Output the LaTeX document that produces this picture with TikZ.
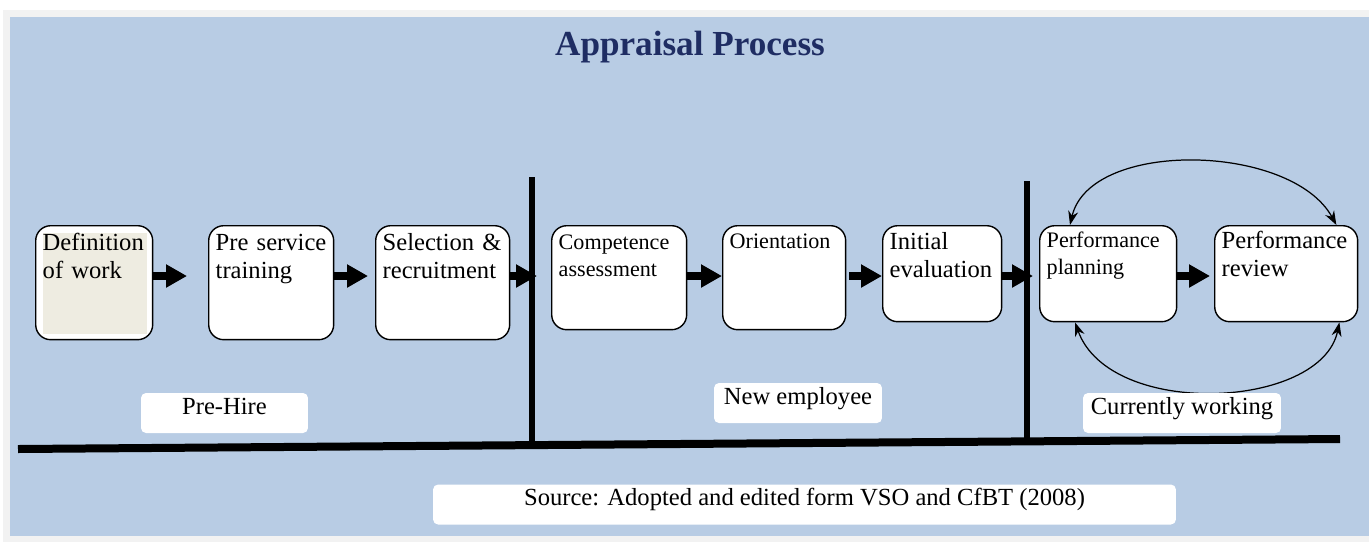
\documentclass[tikz,border=0pt]{standalone}
\usepackage{fontspec}
\setmainfont{Liberation Serif}
\usetikzlibrary{arrows.meta}
\definecolor{sheetblue}{RGB}{184,204,228}
\definecolor{framegray}{RGB}{242,242,242}
\definecolor{titlenavy}{RGB}{31,45,99}
\definecolor{workbeige}{RGB}{238,236,225}
\def\stagefont{\fontsize{14}{16}\selectfont}
\def\smallstagefont{\fontsize{12.6}{15}\selectfont}

\begin{document}
\begin{tikzpicture}[x=0.02cm, y=-0.02cm,
	stage/.style={draw, line width=0.8pt, fill=white, rounded corners=0.3cm, anchor=north west, align=left, inner xsep=0.14cm, inner ysep=0pt, font=\stagefont},
	phase/.style={fill=white, rounded corners=0.1cm, inner sep=0pt, text height=0.42cm, text depth=0.38cm, font=\stagefont},
	flowarrow/.style={line width=0.17cm, -{Triangle[length=0.42cm, width=0.44cm]}},
	cyclearrow/.style={line width=0.7pt, {Stealth[length=0.28cm, width=0.2cm]}-{Stealth[length=0.28cm, width=0.2cm]}}]
			%%%%% START %%%%%
			\useasboundingbox (0,0) rectangle (1369,542);
			\fill[framegray] (3,10) rectangle (1369,542);
			\fill[sheetblue] (10,17) rectangle (1369,536);
			
			\node[font=\fontsize{20}{24}\bfseries\selectfont, text=titlenavy] (title) at (690,47) {Appraisal Process};
			
			% pre-hire
			\node[stage, text width=2.06cm, text height=0.5cm, text depth=1.78cm,
				path picture={\fill[workbeige, sharp corners] ([xshift=0.14cm,yshift=-0.14cm]path picture bounding box.north west) rectangle ([xshift=-0.12cm,yshift=0.12cm]path picture bounding box.south east);}]
				(def) at (35,225) {Definition\\of work};
			\node[stage, text width=2.22cm, text height=0.5cm, text depth=1.78cm] (pre) at (208,225) {Pre service\\training};
			\node[stage, text width=2.4cm, text height=0.5cm, text depth=1.78cm] (sel) at (375,225) {Selection \&\\recruitment};
			
			% new employee
			\node[stage, font=\smallstagefont, text width=2.42cm, text height=0.48cm, text depth=1.6cm] (comp) at (551,225) {Competence\\assessment};
			\node[stage, font=\smallstagefont, text width=2.18cm, text height=0.46cm, text depth=1.62cm] (orient) at (722,225) {Orientation};
			\node[stage, text width=2.1cm, text height=0.48cm, text depth=1.44cm] (init) at (882,225) {Initial\\evaluation};
			
			% currently working
			\node[stage, font=\smallstagefont, text width=2.46cm, text height=0.44cm, text depth=1.48cm] (plan) at (1039,225) {Performance\\planning};
			\node[stage, text width=2.58cm, text height=0.46cm, text depth=1.46cm] (rev) at (1214,225) {Performance\\review};
			
			\coordinate (flowline) at (0,276);
			\draw[flowarrow, shorten >=0.42cm] (def.east |- flowline) -- (pre.west |- flowline);
			\draw[flowarrow, shorten >=0.14cm] (pre.east |- flowline) -- (sel.west |- flowline);
			\draw[flowarrow, shorten >=0.28cm] (sel.east |- flowline) -- (comp.west |- flowline);
			\draw[flowarrow] (comp.east |- flowline) -- (orient.west |- flowline);
			\draw[flowarrow, shorten <=0.06cm] (orient.east |- flowline) -- (init.west |- flowline);
			\draw[flowarrow, shorten >=0.12cm] (init.east |- flowline) -- (plan.west |- flowline);
			\draw[flowarrow, shorten >=0.08cm] (plan.east |- flowline) -- (rev.west |- flowline);
			
			\draw[cyclearrow] ([xshift=0.62cm]plan.north west) .. controls +(20,-86) and +(-45,-82) .. ([xshift=-0.44cm]rev.north east);
			\draw[cyclearrow] ([xshift=0.72cm]plan.south west) .. controls +(35,97) and +(-18,87) .. ([xshift=-0.38cm]rev.south east);
			
			% dividers
			\draw[line width=0.12cm] (532,177) -- (532,449);
			\draw[line width=0.12cm] (1027,181) -- (1027,441);
			\draw[line width=0.16cm] (18,449) -- (1340,439);
			
			\node[phase, minimum width=3.34cm] (prehire) at (224.5,413) {Pre-Hire};
			\node[phase, minimum width=3.36cm] (newemp) at (798,403) {New employee};
			\node[phase, minimum width=3.96cm] (working) at (1182,413) {Currently working};
			\node[phase, minimum width=14.86cm] (source) at (804.5,504.5) {Source: Adopted and edited form VSO and CfBT (2008)};
			%%%%% END %%%%%
\end{tikzpicture}
\end{document}
